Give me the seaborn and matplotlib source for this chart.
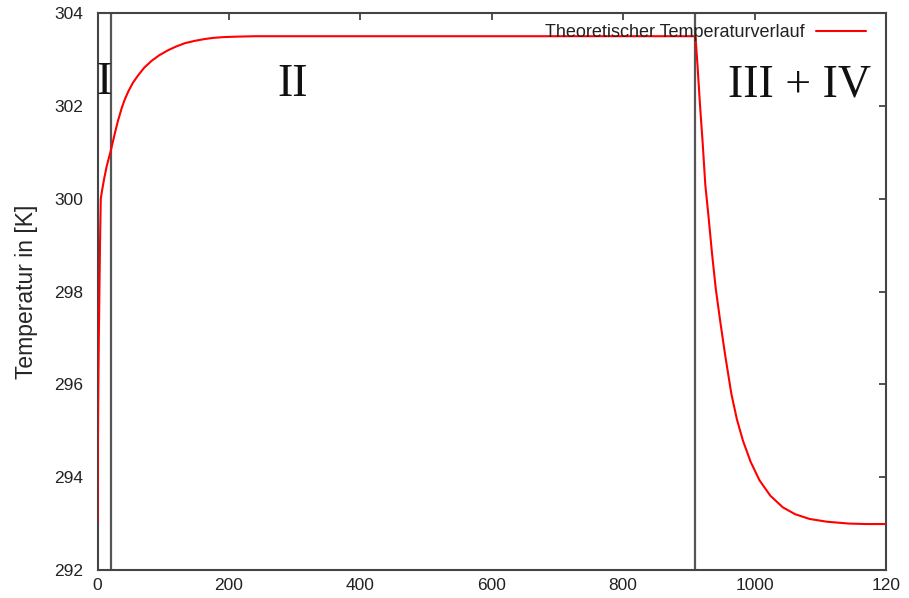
import matplotlib
matplotlib.use("Agg")
import matplotlib.pyplot as plt
import seaborn as sns
import pandas as pd

# --- data ---
time = [0, 0.5, 1, 1.5, 2, 3, 4, 5, 7, 10, 14, 20.5, 26.6, 31, 36.8, 41,
        46.9, 54, 62, 71, 82.4, 94, 107.7, 120, 133, 148, 163.5, 177, 191,
        210, 240, 300, 400, 500, 600, 700, 800, 910,
        913, 917, 921, 925, 930, 935, 941, 947.5, 955, 964.6, 973, 982.2,
        994, 1007.6, 1024, 1043, 1062, 1083.7, 1110, 1144, 1170, 1200]
temperature = [293.0, 294.3, 295.5, 296.3, 297.0, 298.1, 299.2, 300.0,
               300.18, 300.42, 300.7, 301.05, 301.42, 301.67, 301.95, 302.12,
               302.31, 302.5, 302.66, 302.82, 302.97, 303.09, 303.2, 303.28,
               303.35, 303.4, 303.44, 303.465, 303.48, 303.49, 303.5,
               303.5, 303.5, 303.5, 303.5, 303.5, 303.5, 303.5,
               302.9, 302.0, 301.2, 300.3, 299.6, 298.85, 298.05, 297.38,
               296.65, 295.8, 295.25, 294.79, 294.33, 293.93, 293.6, 293.35,
               293.2, 293.1, 293.04, 293.0, 292.99, 292.99]
phase_boundaries = [21, 909]
phase_labels = ["I", "II", "III + IV"]
x_ticks = [0, 200, 400, 600, 800, 1000, 1200]
x_tick_labels = ["0", "200", "400", "600", "800", "1000", "120"]
y_ticks = [292, 294, 296, 298, 300, 302, 304]
series_name = "Theoretischer Temperaturverlauf"
y_label = "Temperatur in [K]"

df = pd.DataFrame({"t": time, "T": temperature, "Serie": series_name})

sns.set_style("white")
plt.rcParams["font.family"] = ["Liberation Sans", "DejaVu Sans"]

fig = plt.figure(figsize=(9.09, 5.98), dpi=100)
ax = fig.add_axes([97.5 / 909, 28 / 598, 788.5 / 909, 557 / 598])

sns.lineplot(data=df, x="t", y="T", hue="Serie", palette=["#ff0000"],
             linewidth=1.5, ax=ax, legend=True, zorder=3)

for xb in phase_boundaries:
    ax.axvline(xb, color="#555555", linewidth=1.6, zorder=2)

ax.set_xlim(0, 1200)
ax.set_ylim(292, 304)
ax.set_xticks(x_ticks)
ax.set_xticklabels(x_tick_labels)
ax.set_yticks(y_ticks)
ax.set_xlabel("")
ax.set_ylabel(y_label, fontsize=16.5, labelpad=12)

ax.tick_params(axis="both", direction="in", length=5, width=1.2,
               color="#333333", labelsize=12.5, labelcolor="#222222",
               top=True, right=True)
ax.tick_params(axis="x", pad=6)
ax.tick_params(axis="y", pad=10)
for s in ax.spines.values():
    s.set_visible(True)
    s.set_color("#444444")
    s.set_linewidth(1.5)

serif = ["Liberation Serif", "DejaVu Serif"]
ax.text(10.5, 302.5, phase_labels[0], family=serif, fontsize=33,
        ha="center", va="center", color="#111111")
ax.text(297, 302.45, phase_labels[1], family=serif, fontsize=33,
        ha="center", va="center", color="#111111")
ax.text(1068, 302.45, phase_labels[2], family=serif, fontsize=33,
        ha="center", va="center", color="#111111")

handles, labels = ax.get_legend_handles_labels()
leg = ax.legend(handles, labels, loc="upper right",
                bbox_to_anchor=(0.975, 0.98), frameon=False,
                markerfirst=False, handlelength=2.8, handletextpad=0.6,
                fontsize=13, borderaxespad=0, borderpad=0)
leg.set_zorder(5)
for t in leg.get_texts():
    t.set_color("#222222")

fig.savefig("out.png", dpi=100, facecolor="white")
